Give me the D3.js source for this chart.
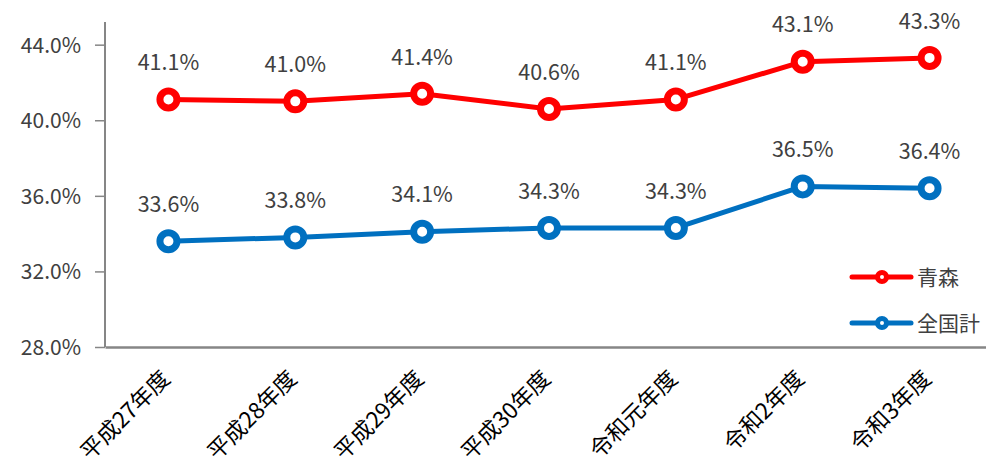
<!DOCTYPE html>
<html><head><meta charset="utf-8">
<script src="https://cdn.jsdelivr.net/npm/d3@7"></script>
<style>body{margin:0;background:#fff;}svg{display:block;}</style>
</head><body>
<svg id="c" width="986" height="471"></svg>
<script>
const categories = ["平成27年度","平成28年度","平成29年度","平成30年度","令和元年度","令和2年度","令和3年度"];
const aomori = [41.1, 41.0, 41.4, 40.6, 41.1, 43.1, 43.3];
const national = [33.6, 33.8, 34.1, 34.3, 34.3, 36.5, 36.4];
const yTicks = [28, 32, 36, 40, 44];
const seriesNames = ["青森", "全国計"];
const seriesColors = ["#ff0000", "#0070c0"];

const svg = d3.select("#c");
const font = "'Noto Sans CJK JP', 'Noto Sans', sans-serif";
const x = d3.scaleBand().domain(categories).range([105, 993]);
const y = d3.scaleLinear().domain([28, 45.2]).range([347, 22]);
const cx = d => x(d) + x.bandwidth() / 2;

// y axis
const ya = svg.append("g").attr("transform", "translate(105,0)")
  .call(d3.axisLeft(y).tickValues(yTicks).tickSize(10).tickFormat(d => d.toFixed(1) + "%"));
ya.select(".domain").attr("stroke", "#868686").attr("stroke-width", 2).attr("d", `M-0,${y(28)}V${y(45.2)}`);
ya.selectAll(".tick line").attr("stroke", "#868686").attr("stroke-width", 1.5);
ya.selectAll(".tick text").attr("font-family", font).attr("font-size", 21).attr("fill", "#404040").attr("x", -24).attr("dy", "0.36em");

// x axis
const xa = svg.append("g").attr("transform", `translate(0,${y(28)})`)
  .call(d3.axisBottom(x).tickSize(0));
xa.select(".domain").attr("stroke", "#868686").attr("stroke-width", 2.5);
xa.selectAll(".tick text").attr("font-family", font).attr("font-size", 22.5).attr("fill", "#000")
  .attr("text-anchor", "end").attr("transform", "translate(3,33) rotate(-45)").attr("x", 0).attr("y", 0).attr("dy", "0");

const series = [aomori, national];
series.forEach((vals, i) => {
  const col = seriesColors[i];
  const line = d3.line().x((d, j) => cx(categories[j])).y(d => y(d));
  svg.append("path").datum(vals).attr("d", line).attr("fill", "none").attr("stroke", col).attr("stroke-width", 5).attr("stroke-linejoin", "round");
  svg.selectAll(null).data(vals).enter().append("circle")
    .attr("cx", (d, j) => cx(categories[j])).attr("cy", d => y(d)).attr("r", 8.5)
    .attr("fill", "#fff").attr("stroke", col).attr("stroke-width", 7);
  svg.selectAll(null).data(vals).enter().append("text")
    .attr("x", (d, j) => cx(categories[j])).attr("y", d => y(d) - 37).attr("dy", "0.36em")
    .attr("text-anchor", "middle").attr("font-family", font).attr("font-size", 21.5).attr("fill", "#404040")
    .text(d => d.toFixed(1) + "%");
});

// legend
seriesNames.forEach((n, i) => {
  const ly = 277 + i * 46;
  const g = svg.append("g");
  g.append("line").attr("x1", 852).attr("x2", 911).attr("y1", ly).attr("y2", ly).attr("stroke", seriesColors[i]).attr("stroke-width", 5).attr("stroke-linecap", "round");
  g.append("circle").attr("cx", 882).attr("cy", ly).attr("r", 4.5).attr("fill", "#fff").attr("stroke", seriesColors[i]).attr("stroke-width", 5);
  g.append("text").attr("x", 917).attr("y", ly).attr("dy", "0.36em").attr("font-family", font).attr("font-size", 21).attr("fill", "#404040").text(n);
});
</script>
</body></html>
